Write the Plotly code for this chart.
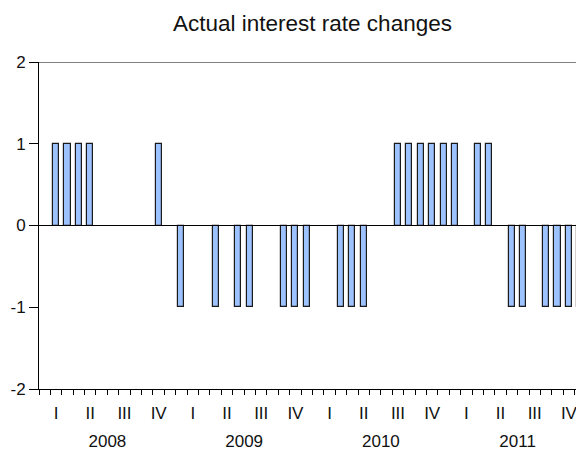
import plotly.graph_objects as go

# Monthly data Jan 2008 .. Dec 2011
years = [2008, 2009, 2010, 2011]
quarter_labels = ["I", "II", "III", "IV"]
months = [f"{y}-{m:02d}" for y in years for m in range(1, 13)]
changes = [
    0, 1, 1, 1, 1, 0, 0, 0, 0, 0, 1, 0,          # 2008
    -1, 0, 0, -1, 0, -1, -1, 0, 0, -1, -1, -1,   # 2009
    0, 0, -1, -1, -1, 0, 0, 1, 1, 1, 1, 1,       # 2010
    1, 0, 1, 1, 0, -1, -1, 0, -1, -1, -1, -1,    # 2011
]
y_ticks = [-2, -1, 0, 1, 2]

n = len(changes)
idx = list(range(n))
# zero months have no visible bar (avoid zero-height outlines over the zero line)
bar_values = [v if v != 0 else None for v in changes]
boundaries = [i - 0.5 for i in range(n + 1)]
quarter_starts = boundaries[::3]
quarter_centers = [i * 3 + 1 for i in range(n // 3)]
quarter_text = [quarter_labels[i % 4] for i in range(n // 3)]
year_centers = [i * 12 + 5.5 for i in range(len(years))]

FONT = "Liberation Sans, Arial, sans-serif"

fig = go.Figure()
fig.add_trace(go.Bar(
    x=idx, y=bar_values, width=0.53,
    marker=dict(color="#9cc3ff", line=dict(color="#1a1a1a", width=1.2)),
    hovertext=months, showlegend=False,
))
fig.add_trace(go.Scatter(x=[0], y=[0], xaxis="x2", mode="markers",
                         marker=dict(opacity=0), showlegend=False, hoverinfo="skip"))
fig.add_trace(go.Scatter(x=[0], y=[0], xaxis="x3", mode="markers",
                         marker=dict(opacity=0), showlegend=False, hoverinfo="skip"))

xr = [-0.5, 47.5]
# the page body adds an 8px offset; margins compensate for it
fig.update_layout(
    width=584, height=451,
    margin=dict(l=31, r=6, t=54, b=70, autoexpand=False),
    paper_bgcolor="white", plot_bgcolor="white",
    font=dict(family=FONT, size=17, color="#111111"),
    title=dict(text="Actual interest rate changes", x=(31 + 578) / 2 / 584, xanchor="center",
               y=1 - 15 / 451, yanchor="middle", yref="container",
               font=dict(family=FONT, size=22.5, color="#111111")),
    bargap=0,
    xaxis=dict(range=xr, showgrid=False, zeroline=False, automargin=False,
               showline=True, linecolor="black", linewidth=1,
               tickmode="array", tickvals=quarter_starts, ticktext=[""] * len(quarter_starts),
               ticks="outside", ticklen=9, tickwidth=1, tickcolor="black",
               minor=dict(tickmode="array", tickvals=boundaries, ticks="outside",
                          ticklen=5, tickwidth=1, tickcolor="black", showgrid=False)),
    xaxis2=dict(range=xr, overlaying="x", anchor="y", side="bottom", showgrid=False,
                zeroline=False, showline=False, tickmode="array", automargin=False,
                tickvals=quarter_centers, ticktext=quarter_text, ticks="",
                ticklabelstandoff=12, tickfont=dict(size=17)),
    xaxis3=dict(range=xr, overlaying="x", anchor="y", side="bottom", showgrid=False,
                zeroline=False, showline=False, tickmode="array", automargin=False,
                tickvals=year_centers, ticktext=[str(y) for y in years], ticks="",
                ticklabelstandoff=40, tickfont=dict(size=17)),
    yaxis=dict(range=[-2, 2], showgrid=False, zeroline=False,
               showline=True, linecolor="black", linewidth=1,
               automargin=False,
               tickmode="array", tickvals=y_ticks, ticktext=[str(v) for v in y_ticks],
               ticks="outside", ticklen=9, tickcolor="black", tickfont=dict(size=17)),
    shapes=[
        dict(type="line", xref="paper", yref="y", x0=0, x1=1, y0=2, y1=2,
             line=dict(color="black", width=1), layer="above"),
        dict(type="line", xref="paper", yref="y", x0=0, x1=1, y0=0, y1=0,
             line=dict(color="black", width=1), layer="above"),
    ],
)

fig.write_html("out.html")
